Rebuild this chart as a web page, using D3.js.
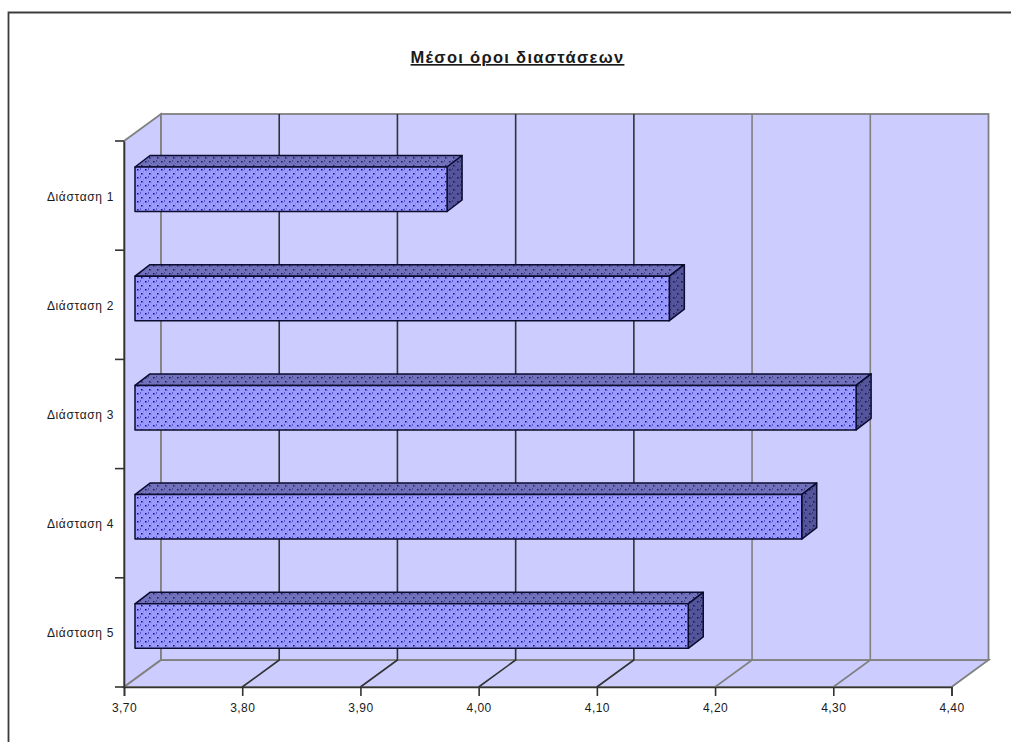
<!DOCTYPE html>
<html>
<head>
<meta charset="utf-8">
<script src="https://cdn.jsdelivr.net/npm/d3@7/dist/d3.min.js"></script>
<style>
html, body { margin: 0; padding: 0; background: #fff; }
svg { display: block; }
text { font-family: "Liberation Sans", Arial, sans-serif; fill: #1a1a1a; }
</style>
</head>
<body>
<svg id="chart" width="1011" height="742"></svg>
<script>
// Chart content
const chartTitle = "Μέσοι όροι διαστάσεων";
const categories = ["Διάσταση 1", "Διάσταση 2", "Διάσταση 3", "Διάσταση 4", "Διάσταση 5"];
const means = [3.964, 4.152, 4.31, 4.264, 4.168];
const valueTicks = [3.7, 3.8, 3.9, 4.0, 4.1, 4.2, 4.3, 4.4];
const darkGridTicks = [3.8, 3.9, 4.0, 4.1];

// Oblique projection used for the box around the plot
const depth = { dx: 37, dy: -27 };
const barDepth = { dx: 15, dy: -11.5 };
const barInset = { dx: 11, dy: -5 };
const barThickness = 44.5;

const svg = d3.select("#chart");
const x = d3.scaleLinear().domain([3.7, 4.4]).range([124, 951.5]);
const y = d3.scaleBand().domain(categories).range([141, 687]);
const gridGrey = "#808080", gridDark = "#333333", wallFill = "#ccccff";

// Textured fills for the three visible faces of each bar
const defs = svg.append("defs");
function texture(id, base, dot, mark) {
  const p = defs.append("pattern").attr("id", id)
    .attr("patternUnits", "userSpaceOnUse").attr("width", 8).attr("height", 8);
  p.append("rect").attr("width", 8).attr("height", 8).attr("fill", base);
  [[1, 1], [5, 5]].forEach(([a, b]) => {
    p.append("path").attr("d", `M${a + 2.5} ${b - 1.5}l1.5 1.5l-1.5 1.5`).attr("fill", "none")
      .attr("stroke", mark).attr("stroke-width", 1);
    p.append("rect").attr("x", a).attr("y", b).attr("width", 1.5).attr("height", 1.5).attr("fill", dot);
  });
}
texture("faceFront", "#9a9aff", "#12127c", "#5a5ae0");
texture("faceTop", "#7272bc", "#1c1c68", "#4c4c98");
texture("faceSide", "#55559c", "#12124e", "#38387c");

// Page frame
svg.append("path").attr("d", "M8.5 742V12.5H1011").attr("fill", "none")
  .attr("stroke", "#3c3c3c").attr("stroke-width", 1.8);

svg.append("text").attr("x", 517.5).attr("y", 63).attr("text-anchor", "middle")
  .attr("font-size", 16.5).attr("font-weight", "bold").attr("letter-spacing", 1.3)
  .attr("text-decoration", "underline").text(chartTitle);

// Walls and floor
const [x0, x1] = x.range();
const [yTop, yBot] = y.range();
const walls = svg.append("g").attr("fill", wallFill).attr("stroke", gridGrey).attr("stroke-width", 1.8);
walls.append("path").attr("d", `M${x0} ${yTop}l${depth.dx} ${depth.dy}V${yBot + depth.dy}L${x0} ${yBot}Z`);
walls.append("path").attr("d", `M${x0} ${yBot}l${depth.dx} ${depth.dy}H${x1 + depth.dx}L${x1} ${yBot}Z`);
walls.append("rect").attr("x", x0 + depth.dx).attr("y", yTop + depth.dy)
  .attr("width", x1 - x0).attr("height", yBot - yTop);

// Gridlines up the back wall and across the floor
const gridColor = d => darkGridTicks.includes(d) ? gridDark : gridGrey;
svg.append("g").attr("fill", "none").attr("stroke-width", 1.6)
  .selectAll("path").data(valueTicks.slice(1, -1)).join("path")
  .attr("stroke", gridColor)
  .attr("d", d => `M${x(d)} ${yBot}l${depth.dx} ${depth.dy}V${yTop + depth.dy}`);

// Bars drawn as three faces
const bars = svg.append("g").selectAll("g").data(categories.map((c, i) => ({ c, v: means[i] }))).join("g")
  .attr("stroke", "#0c0c30").attr("stroke-width", 1.5).attr("stroke-linejoin", "round");
const barLeft = x0 + barInset.dx;
const barTop = d => y(d.c) + 26;
const barRight = d => barLeft + x(d.v) - x0;
bars.append("path").attr("fill", "url(#faceTop)")
  .attr("d", d => `M${barLeft} ${barTop(d)}l${barDepth.dx} ${barDepth.dy}H${barRight(d) + barDepth.dx}L${barRight(d)} ${barTop(d)}Z`);
bars.append("path").attr("fill", "url(#faceSide)")
  .attr("d", d => `M${barRight(d)} ${barTop(d)}l${barDepth.dx} ${barDepth.dy}v${barThickness}l${-barDepth.dx} ${-barDepth.dy}Z`);
bars.append("rect").attr("fill", "url(#faceFront)")
  .attr("x", barLeft).attr("y", barTop).attr("width", d => barRight(d) - barLeft).attr("height", barThickness);

// Axes along the front edges
const bottomAxis = svg.append("g").attr("transform", `translate(0,${yBot})`)
  .call(d3.axisBottom(x).tickValues(valueTicks).tickSize(9).tickPadding(7)
    .tickFormat(d => d3.format(".2f")(d).replace(".", ",")));
const leftAxis = svg.append("g").attr("transform", `translate(${x0},0)`)
  .call(d3.axisLeft(y).tickSize(0).tickPadding(10));
[bottomAxis, leftAxis].forEach(a => {
  a.select(".domain").attr("stroke", "#333").attr("stroke-width", 1.6);
  a.selectAll("line").attr("stroke", "#333").attr("stroke-width", 1.6);
  a.selectAll("text").attr("font-size", 12).attr("fill", "#1a1a1a").attr("letter-spacing", 0.45)
    .attr("font-family", '"Liberation Sans", Arial, sans-serif');
});
leftAxis.selectAll("text").attr("dy", "0.42em").attr("letter-spacing", 0.65);
// Category separators sit on band edges, not band centres
svg.append("g").attr("stroke", "#333").attr("stroke-width", 1.6)
  .selectAll("line").data([...categories.map(c => y(c)), yBot]).join("line")
  .attr("x1", x0 - 9).attr("x2", x0).attr("y1", d => d).attr("y2", d => d);
</script>
</body>
</html>
